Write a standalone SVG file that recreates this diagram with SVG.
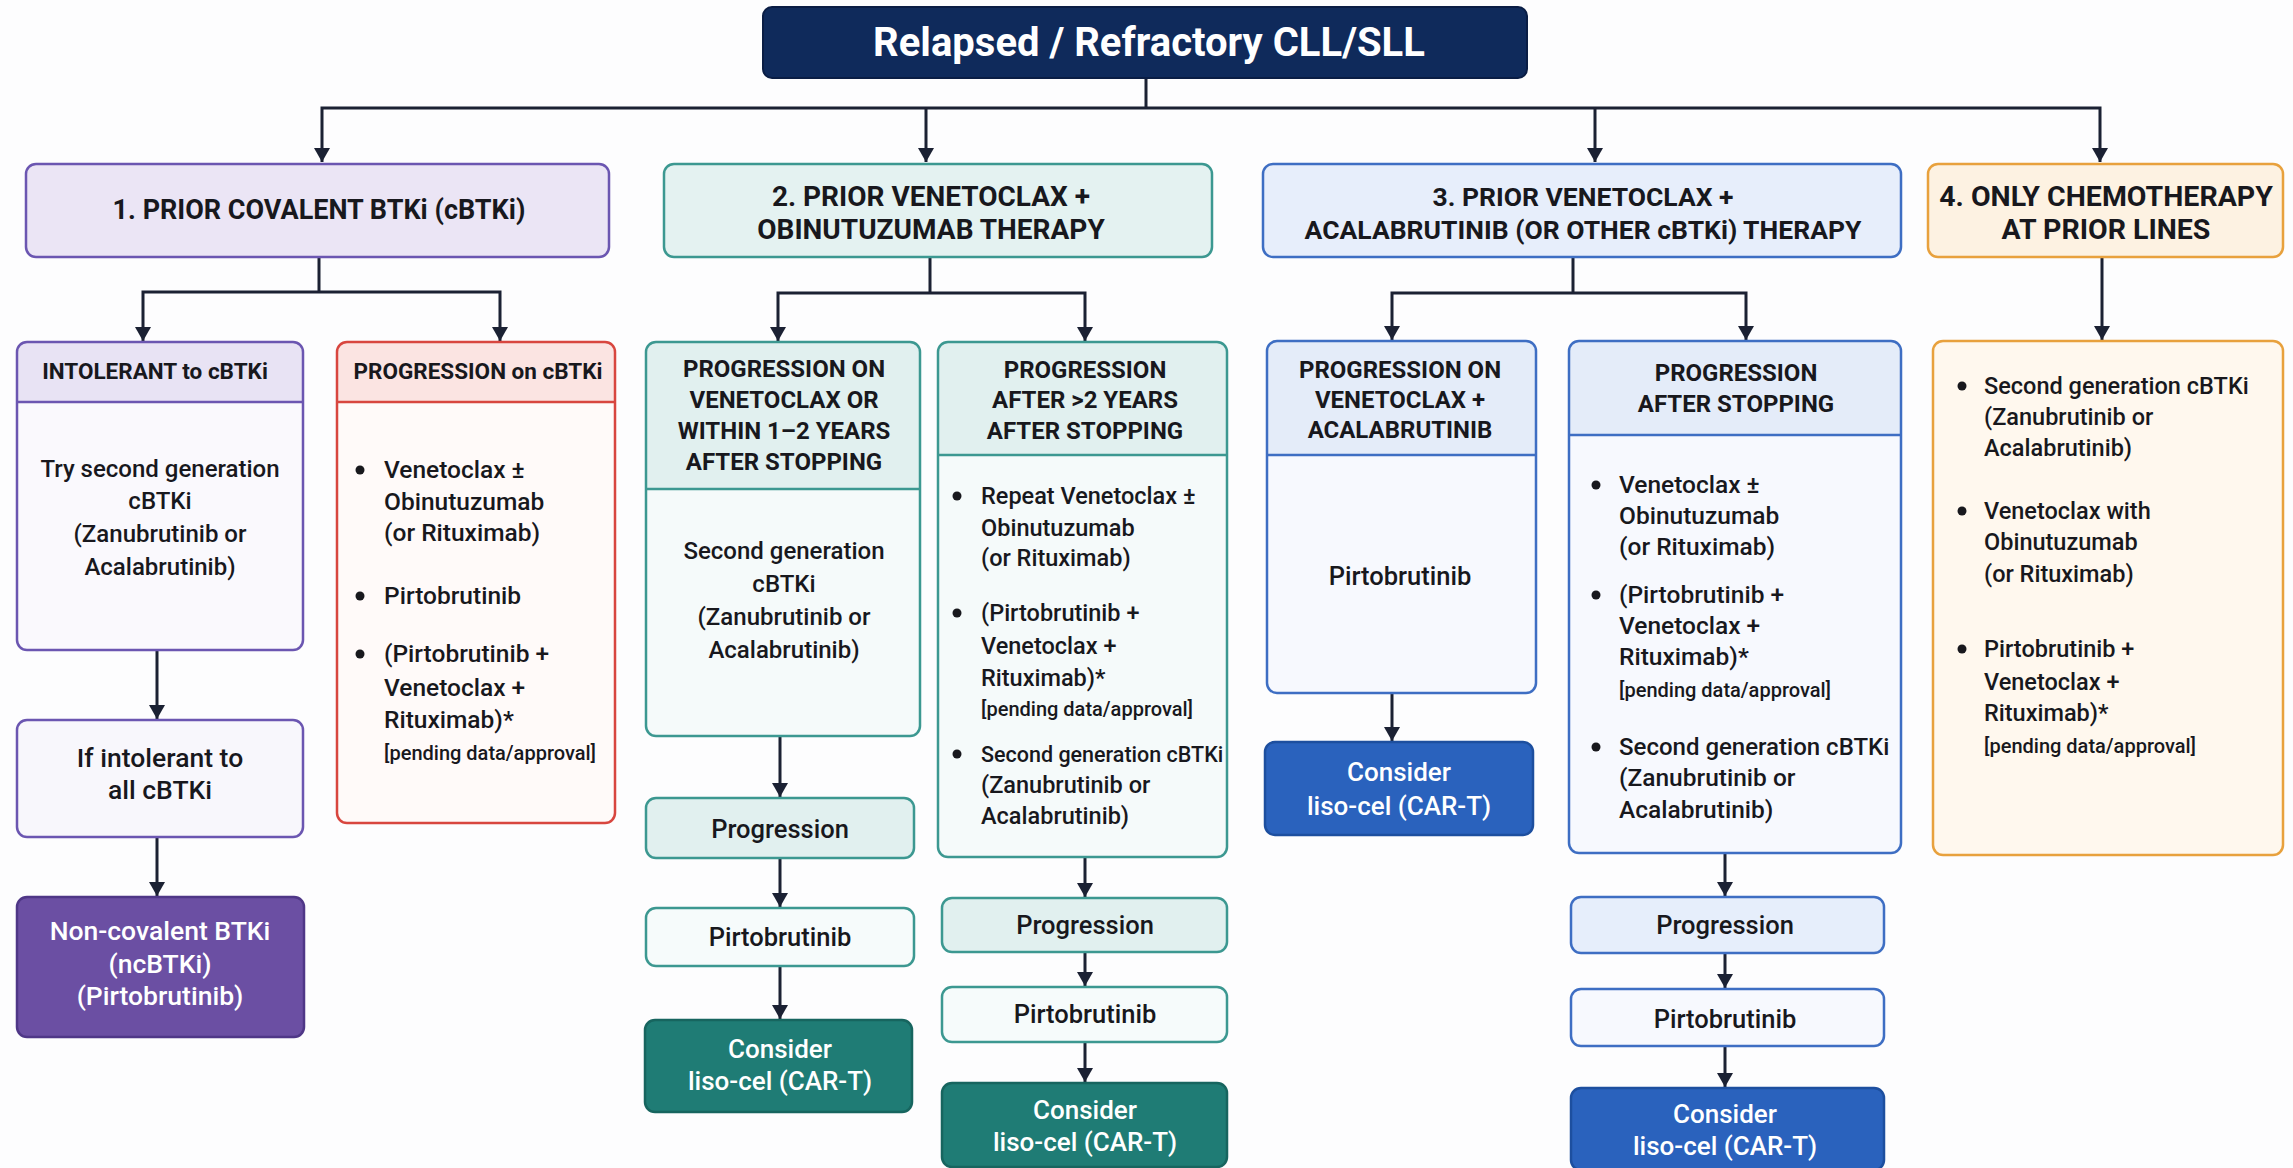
<svg xmlns="http://www.w3.org/2000/svg" width="2293" height="1168" viewBox="0 0 2293 1168">
  <style>
    text { font-family: Roboto, "Liberation Sans", sans-serif; fill: #18181d; }
    .ttl { font-size: 40px; font-weight: 700; fill: #ffffff; text-anchor: middle; }
    .l1 { font-size: 27px; font-weight: 700; text-anchor: middle; }
    .hd1 { font-size: 22.5px; font-weight: 700; text-anchor: middle; }
    .hd { font-size: 24px; font-weight: 700; text-anchor: middle; }
    .c { font-size: 24px; font-weight: 500; text-anchor: middle; }
    .b { font-size: 24.5px; font-weight: 500; }
    .s { font-size: 25.5px; font-weight: 500; text-anchor: middle; }
    .cn { font-size: 26px; font-weight: 500; text-anchor: middle; fill: #ffffff; }
    .sm { font-size: 20px; font-weight: 500; }
    .w { fill: #ffffff; }
    .dot { fill: #18181d; }
    .wire { fill: none; stroke: #1b2133; stroke-width: 3; }
    .arr { fill: none; stroke: #1b2133; stroke-width: 3; marker-end: url(#head); }
    .pu { stroke: #6b56b1; stroke-width: 2.5; }
    .rd { stroke: #d8463f; stroke-width: 2.5; }
    .tl { stroke: #3c9891; stroke-width: 2.5; }
    .bl { stroke: #3e6ec3; stroke-width: 2.5; }
    .or { stroke: #e8a13d; stroke-width: 2.5; }
  </style>
  <defs>
    <marker id="head" viewBox="0 0 14 16" refX="14" refY="8" markerWidth="14" markerHeight="16" markerUnits="userSpaceOnUse" orient="auto">
      <path d="M0,0 L14,8 L0,16 Z" fill="#1b2133"/>
    </marker>
  </defs>

  <rect width="2293" height="1168" fill="#fdfdfe"/>

  <!-- connectors -->
  <g id="connectors">
    <path class="wire" d="M1146,78 V108"/>
    <path class="arr" d="M1146,108 H322 V162"/>
    <path class="arr" d="M1146,108 H2100 V162"/>
    <path class="arr" d="M926,108 V162"/>
    <path class="arr" d="M1595,108 V162"/>

    <path class="wire" d="M319,257 V292"/>
    <path class="arr" d="M319,292 H143 V341"/>
    <path class="arr" d="M319,292 H500 V341"/>

    <path class="wire" d="M930,257 V293"/>
    <path class="arr" d="M930,293 H778 V341"/>
    <path class="arr" d="M930,293 H1085 V341"/>

    <path class="wire" d="M1573,257 V293"/>
    <path class="arr" d="M1573,293 H1392 V340"/>
    <path class="arr" d="M1573,293 H1746 V340"/>

    <path class="arr" d="M2102,257 V340"/>

    <path class="arr" d="M157,650 V719"/>
    <path class="arr" d="M157,837 V896"/>

    <path class="arr" d="M780,736 V797"/>
    <path class="arr" d="M780,858 V907"/>
    <path class="arr" d="M780,966 V1019"/>

    <path class="arr" d="M1085,857 V897"/>
    <path class="arr" d="M1085,952 V986"/>
    <path class="arr" d="M1085,1042 V1082"/>

    <path class="arr" d="M1392,693 V741"/>

    <path class="arr" d="M1725,853 V896"/>
    <path class="arr" d="M1725,953 V988"/>
    <path class="arr" d="M1725,1046 V1087"/>
  </g>

  <!-- root -->
  <g id="root">
    <rect x="763" y="7" width="764" height="71" rx="9" fill="#0f2a5b" stroke="#0a1d44" stroke-width="2"/>
    <text class="ttl" x="1149" y="56">Relapsed / Refractory CLL/SLL</text>
  </g>

  <!-- first level -->
  <g id="prior-cbtki">
    <rect class="pu" x="26" y="164" width="583" height="93" rx="10" fill="#ebe5f5"/>
    <text class="l1" x="319" y="219">1. PRIOR COVALENT BTKi (cBTKi)</text>
  </g>
  <g id="prior-ven-obin">
    <rect class="tl" x="664" y="164" width="548" height="93" rx="10" fill="#e4f2f1"/>
    <text class="l1" x="931" y="206" style="font-size:28px">2. PRIOR VENETOCLAX +</text>
    <text class="l1" x="931" y="239" style="font-size:28px">OBINUTUZUMAB THERAPY</text>
  </g>
  <g id="prior-ven-acala">
    <rect class="bl" x="1263" y="164" width="638" height="93" rx="10" fill="#e7eefb"/>
    <text class="l1" x="1583" y="206" style="font-size:26.5px">3. PRIOR VENETOCLAX +</text>
    <text class="l1" x="1583" y="239" style="font-size:26.5px">ACALABRUTINIB (OR OTHER cBTKi) THERAPY</text>
  </g>
  <g id="only-chemo">
    <rect class="or" x="1928" y="164" width="355" height="93" rx="10" fill="#fdf2e2"/>
    <text class="l1" x="2106" y="206" style="font-size:28.5px">4. ONLY CHEMOTHERAPY</text>
    <text class="l1" x="2106" y="239" style="font-size:28.5px">AT PRIOR LINES</text>
  </g>

  <!-- column 1 -->
  <g id="intolerant">
    <rect x="17" y="342" width="286" height="308" rx="10" fill="#faf9fd"/>
    <path d="M17,402 V352 Q17,342 27,342 H293 Q303,342 303,352 V402 Z" fill="#e8e3f4"/>
    <line class="pu" x1="17" y1="402" x2="303" y2="402"/>
    <rect class="pu" x="17" y="342" width="286" height="308" rx="10" fill="none"/>
    <text class="hd1" x="155" y="379">INTOLERANT to cBTKi</text>
    <text class="c" x="160" y="477">Try second generation</text>
    <text class="c" x="160" y="509">cBTKi</text>
    <text class="c" x="160" y="542">(Zanubrutinib or</text>
    <text class="c" x="160" y="575">Acalabrutinib)</text>
  </g>
  <g id="progression-cbtki">
    <rect x="337" y="342" width="278" height="481" rx="10" fill="#fffaf9"/>
    <path d="M337,402 V352 Q337,342 347,342 H605 Q615,342 615,352 V402 Z" fill="#fbe4e2"/>
    <line class="rd" x1="337" y1="402" x2="615" y2="402"/>
    <rect class="rd" x="337" y="342" width="278" height="481" rx="10" fill="none"/>
    <text class="hd1" x="478" y="379">PROGRESSION on cBTKi</text>
    <circle class="dot" cx="360" cy="470" r="4.5"/>
    <text class="b" x="384" y="478">Venetoclax ±</text>
    <text class="b" x="384" y="510">Obinutuzumab</text>
    <text class="b" x="384" y="541">(or Rituximab)</text>
    <circle class="dot" cx="360" cy="596" r="4.5"/>
    <text class="b" x="384" y="604">Pirtobrutinib</text>
    <circle class="dot" cx="360" cy="654" r="4.5"/>
    <text class="b" x="384" y="662">(Pirtobrutinib +</text>
    <text class="b" x="384" y="696">Venetoclax +</text>
    <text class="b" x="384" y="728">Rituximab)*</text>
    <text class="sm" x="384" y="760">[pending data/approval]</text>
  </g>
  <g id="intolerant-all">
    <rect class="pu" x="17" y="720" width="286" height="117" rx="10" fill="#f8f7fc"/>
    <text class="c" x="160" y="767" style="font-size:26.5px">If intolerant to</text>
    <text class="c" x="160" y="799" style="font-size:26.5px">all cBTKi</text>
  </g>
  <g id="ncbtki">
    <rect x="17" y="897" width="287" height="140" rx="10" fill="#6b4fa3" stroke="#4f3787" stroke-width="2.5"/>
    <text class="c w" x="160" y="940" style="font-size:26.5px">Non-covalent BTKi</text>
    <text class="c w" x="160" y="973" style="font-size:26.5px">(ncBTKi)</text>
    <text class="c w" x="160" y="1005" style="font-size:26.5px">(Pirtobrutinib)</text>
  </g>

  <!-- column 2 -->
  <g id="prog-on-ven">
    <rect x="646" y="342" width="274" height="394" rx="10" fill="#f5fafa"/>
    <path d="M646,489 V352 Q646,342 656,342 H910 Q920,342 920,352 V489 Z" fill="#e1f0ef"/>
    <line class="tl" x1="646" y1="489" x2="920" y2="489"/>
    <rect class="tl" x="646" y="342" width="274" height="394" rx="10" fill="none"/>
    <text class="hd" x="784" y="377">PROGRESSION ON</text>
    <text class="hd" x="784" y="408">VENETOCLAX OR</text>
    <text class="hd" x="784" y="439">WITHIN 1–2 YEARS</text>
    <text class="hd" x="784" y="470">AFTER STOPPING</text>
    <text class="c" x="784" y="559">Second generation</text>
    <text class="c" x="784" y="592">cBTKi</text>
    <text class="c" x="784" y="625">(Zanubrutinib or</text>
    <text class="c" x="784" y="658">Acalabrutinib)</text>
  </g>
  <g id="prog-after-2y">
    <rect x="938" y="342" width="289" height="515" rx="10" fill="#f5fafa"/>
    <path d="M938,455 V352 Q938,342 948,342 H1217 Q1227,342 1227,352 V455 Z" fill="#e1f0ef"/>
    <line class="tl" x1="938" y1="455" x2="1227" y2="455"/>
    <rect class="tl" x="938" y="342" width="289" height="515" rx="10" fill="none"/>
    <text class="hd" x="1085" y="378">PROGRESSION</text>
    <text class="hd" x="1085" y="408">AFTER &gt;2 YEARS</text>
    <text class="hd" x="1085" y="439">AFTER STOPPING</text>
    <circle class="dot" cx="957" cy="496" r="4.5"/>
    <text class="b" x="981" y="504" style="font-size:23.5px">Repeat Venetoclax ±</text>
    <text class="b" x="981" y="536" style="font-size:23.5px">Obinutuzumab</text>
    <text class="b" x="981" y="566" style="font-size:23.5px">(or Rituximab)</text>
    <circle class="dot" cx="957" cy="613" r="4.5"/>
    <text class="b" x="981" y="621" style="font-size:23.5px">(Pirtobrutinib +</text>
    <text class="b" x="981" y="654" style="font-size:23.5px">Venetoclax +</text>
    <text class="b" x="981" y="686" style="font-size:23.5px">Rituximab)*</text>
    <text class="sm" x="981" y="716">[pending data/approval]</text>
    <circle class="dot" cx="957" cy="754" r="4.5"/>
    <text class="b" x="981" y="762" style="font-size:21.5px">Second generation cBTKi</text>
    <text class="b" x="981" y="793" style="font-size:23.5px">(Zanubrutinib or</text>
    <text class="b" x="981" y="824" style="font-size:23.5px">Acalabrutinib)</text>
  </g>
  <g id="progression-2a">
    <rect class="tl" x="646" y="798" width="268" height="60" rx="10" fill="#e1f0ef"/>
    <text class="s" x="780" y="838">Progression</text>
  </g>
  <g id="pirto-2a">
    <rect class="tl" x="646" y="908" width="268" height="58" rx="10" fill="#f6fbfb"/>
    <text class="s" x="780" y="946">Pirtobrutinib</text>
  </g>
  <g id="cart-2a">
    <rect x="645" y="1020" width="267" height="92" rx="10" fill="#1f7c75" stroke="#17655f" stroke-width="2.5"/>
    <text class="cn" x="780" y="1058">Consider</text>
    <text class="cn" x="780" y="1090">liso-cel (CAR-T)</text>
  </g>
  <g id="progression-2b">
    <rect class="tl" x="942" y="898" width="285" height="54" rx="10" fill="#e1f0ef"/>
    <text class="s" x="1085" y="934">Progression</text>
  </g>
  <g id="pirto-2b">
    <rect class="tl" x="942" y="987" width="285" height="55" rx="10" fill="#f6fbfb"/>
    <text class="s" x="1085" y="1023">Pirtobrutinib</text>
  </g>
  <g id="cart-2b">
    <rect x="942" y="1083" width="285" height="84" rx="10" fill="#1f7c75" stroke="#17655f" stroke-width="2.5"/>
    <text class="cn" x="1085" y="1119">Consider</text>
    <text class="cn" x="1085" y="1151">liso-cel (CAR-T)</text>
  </g>

  <!-- column 3 -->
  <g id="prog-on-ven-acala">
    <rect x="1267" y="341" width="269" height="352" rx="10" fill="#f7f9fe"/>
    <path d="M1267,455 V351 Q1267,341 1277,341 H1526 Q1536,341 1536,351 V455 Z" fill="#e4ecf9"/>
    <line class="bl" x1="1267" y1="455" x2="1536" y2="455"/>
    <rect class="bl" x="1267" y="341" width="269" height="352" rx="10" fill="none"/>
    <text class="hd" x="1400" y="378">PROGRESSION ON</text>
    <text class="hd" x="1400" y="408">VENETOCLAX +</text>
    <text class="hd" x="1400" y="438">ACALABRUTINIB</text>
    <text class="s" x="1400" y="585">Pirtobrutinib</text>
  </g>
  <g id="cart-3a">
    <rect x="1265" y="742" width="268" height="93" rx="10" fill="#2a62bd" stroke="#1d4f9f" stroke-width="2.5"/>
    <text class="cn" x="1399" y="781">Consider</text>
    <text class="cn" x="1399" y="815">liso-cel (CAR-T)</text>
  </g>
  <g id="prog-after-stop">
    <rect x="1569" y="341" width="332" height="512" rx="10" fill="#f7f9fe"/>
    <path d="M1569,435 V351 Q1569,341 1579,341 H1891 Q1901,341 1901,351 V435 Z" fill="#e4ecf9"/>
    <line class="bl" x1="1569" y1="435" x2="1901" y2="435"/>
    <rect class="bl" x="1569" y="341" width="332" height="512" rx="10" fill="none"/>
    <text class="hd" x="1736" y="381">PROGRESSION</text>
    <text class="hd" x="1736" y="412">AFTER STOPPING</text>
    <circle class="dot" cx="1596" cy="485" r="4.5"/>
    <text class="b" x="1619" y="493">Venetoclax ±</text>
    <text class="b" x="1619" y="524">Obinutuzumab</text>
    <text class="b" x="1619" y="555">(or Rituximab)</text>
    <circle class="dot" cx="1596" cy="595" r="4.5"/>
    <text class="b" x="1619" y="603">(Pirtobrutinib +</text>
    <text class="b" x="1619" y="634">Venetoclax +</text>
    <text class="b" x="1619" y="665">Rituximab)*</text>
    <text class="sm" x="1619" y="697">[pending data/approval]</text>
    <circle class="dot" cx="1596" cy="747" r="4.5"/>
    <text class="b" x="1619" y="755" style="font-size:24px">Second generation cBTKi</text>
    <text class="b" x="1619" y="786">(Zanubrutinib or</text>
    <text class="b" x="1619" y="818">Acalabrutinib)</text>
  </g>
  <g id="progression-3b">
    <rect class="bl" x="1571" y="897" width="313" height="56" rx="10" fill="#e6eefb"/>
    <text class="s" x="1725" y="934">Progression</text>
  </g>
  <g id="pirto-3b">
    <rect class="bl" x="1571" y="989" width="313" height="57" rx="10" fill="#f7f9fe"/>
    <text class="s" x="1725" y="1028">Pirtobrutinib</text>
  </g>
  <g id="cart-3b">
    <rect x="1571" y="1088" width="313" height="82" rx="10" fill="#2a62bd" stroke="#1d4f9f" stroke-width="2.5"/>
    <text class="cn" x="1725" y="1123">Consider</text>
    <text class="cn" x="1725" y="1155">liso-cel (CAR-T)</text>
  </g>

  <!-- column 4 -->
  <g id="chemo-options">
    <rect class="or" x="1933" y="341" width="350" height="514" rx="10" fill="#fff8ee"/>
    <circle class="dot" cx="1962" cy="386" r="4.5"/>
    <text class="b" x="1984" y="394" style="font-size:23.5px">Second generation cBTKi</text>
    <text class="b" x="1984" y="425" style="font-size:23.5px">(Zanubrutinib or</text>
    <text class="b" x="1984" y="456" style="font-size:23.5px">Acalabrutinib)</text>
    <circle class="dot" cx="1962" cy="511" r="4.5"/>
    <text class="b" x="1984" y="519" style="font-size:23.5px">Venetoclax with</text>
    <text class="b" x="1984" y="550" style="font-size:23.5px">Obinutuzumab</text>
    <text class="b" x="1984" y="582" style="font-size:23.5px">(or Rituximab)</text>
    <circle class="dot" cx="1962" cy="649" r="4.5"/>
    <text class="b" x="1984" y="657" style="font-size:23.5px">Pirtobrutinib +</text>
    <text class="b" x="1984" y="690" style="font-size:23.5px">Venetoclax +</text>
    <text class="b" x="1984" y="721" style="font-size:23.5px">Rituximab)*</text>
    <text class="sm" x="1984" y="753">[pending data/approval]</text>
  </g>
</svg>
